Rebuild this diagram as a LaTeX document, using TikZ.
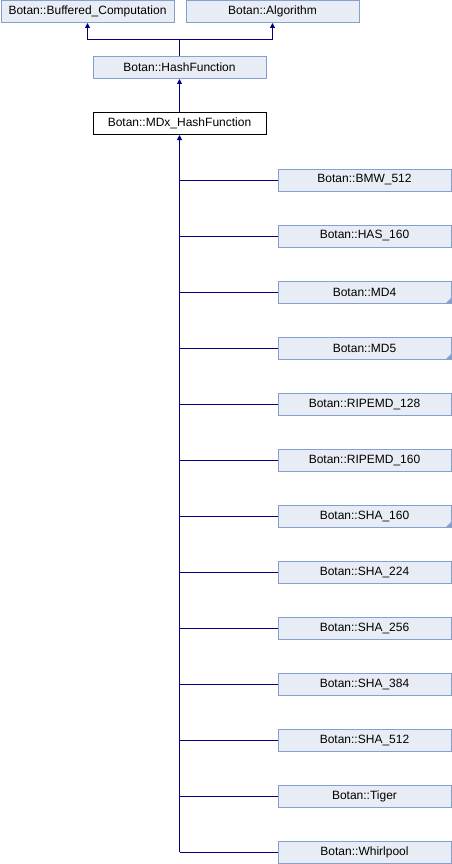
\documentclass[tikz,border=0pt]{standalone}
\usepackage{fontspec}
\setmainfont{Liberation Sans}
\usepackage{xcolor}
\usetikzlibrary{arrows.meta}
\definecolor{boxfill}{HTML}{E8ECF5}
\definecolor{boxline}{HTML}{84A0D0}
\definecolor{edgeblue}{HTML}{000080}
\begin{document}
\begin{tikzpicture}[x=1pt,y=-1pt,
  cls/.style={draw=boxline,fill=boxfill,line width=1pt,minimum width=173pt,minimum height=22pt,inner sep=0pt,font=\fontsize{12}{14}\selectfont},
  cur/.style={cls,draw=black,fill=white},
  link/.style={draw=edgeblue,line width=1pt},
  inh/.style={link,-{Triangle[length=5pt,width=5pt]}}]
  \useasboundingbox (0,0) rectangle (452,864);
  % base classes
  \node[cls] (buf) at (87.5,11.5) {Botan::Buffered\_Computation};
  \node[cls] (alg) at (272.5,11.5) {Botan::Algorithm};
  \node[cls] (hash) at (179.5,67.5) {Botan::HashFunction};
  \node[cur] (mdx) at (179.5,123.5) {Botan::MDx\_HashFunction};
  % inheritance above
  \coordinate (join) at (179.5,40);
  \draw[link] (hash.north) -- (join);
  \draw[inh] (join) -| (buf.south);
  \draw[inh] (join) -| (alg.south);
  \draw[inh] (mdx.north) -- (hash.south);
  % derived classes
  \foreach \name/\lbl [count=\i from 0] in {bmw/BMW\_512,has/HAS\_160,mdfour/MD4,mdfive/MD5,
      rmda/RIPEMD\_128,rmdb/RIPEMD\_160,shaa/SHA\_160,shab/SHA\_224,shac/SHA\_256,
      shad/SHA\_384,shae/SHA\_512,tiger/Tiger,whirl/Whirlpool} {
    \node[cls] (\name) at (364.5,180+56*\i) {Botan::\lbl};
    \draw[link] (\name.west) -- (mdx.south |- \name.west);
  }
  \coordinate (trunk) at (mdx.south |- whirl.west);
  \draw[inh] (trunk) -- (mdx.south);
  % marks for classes with further children
  \foreach \name in {mdfour,mdfive,shaa}
    \fill[boxline] (\name.south east) -- ++(-6,0) -- ++(6,-6) -- cycle;
\end{tikzpicture}
\end{document}
